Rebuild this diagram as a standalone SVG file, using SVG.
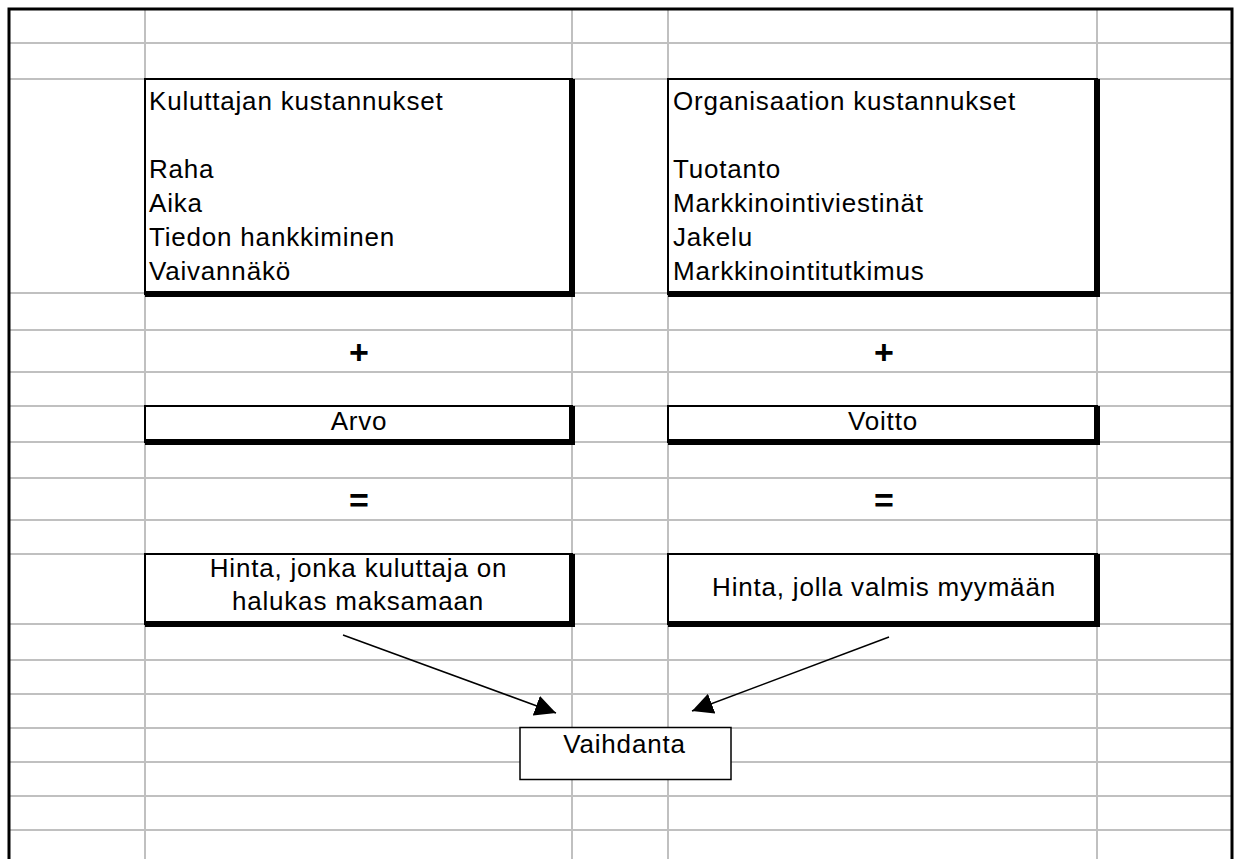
<svg xmlns="http://www.w3.org/2000/svg" width="1238" height="859" viewBox="0 0 1238 859">
  <style>
    .grid { stroke: #c0c0c0; stroke-width: 2; fill: none; }
    .frame { stroke: #000; stroke-width: 3; fill: none; }
    .box { fill: #fff; stroke: #000; stroke-width: 2; }
    .shadow { fill: none; stroke: #000; stroke-width: 6; stroke-linejoin: miter; }
    .t { font-family: "Liberation Sans", Arial, sans-serif; font-size: 26px; letter-spacing: 0.8px; fill: #000; }
    .c { text-anchor: middle; }
    .op { font-family: "Liberation Sans", Arial, sans-serif; font-size: 34px; font-weight: bold; text-anchor: middle; fill: #000; }
    .conn { stroke: #000; stroke-width: 1.5; fill: none; marker-end: url(#ah); }
  </style>
  <defs>
    <marker id="ah" viewBox="0 0 21 21" refX="21" refY="10.5" markerWidth="21" markerHeight="21" markerUnits="userSpaceOnUse" orient="auto">
      <path d="M0,0 L21,10.5 L0,21 z" fill="#000"/>
    </marker>
  </defs>
  <rect x="0" y="0" width="1238" height="859" fill="#fff"/>
  <g id="grid">
    <path class="grid" d="M9,43H1232M9,79H1232M9,293H1232M9,330H1232M9,372H1232M9,406H1232M9,442H1232M9,478H1232M9,520H1232M9,554H1232M9,624H1232M9,660H1232M9,694H1232M9,728H1232M9,762H1232M9,796H1232M9,830H1232"/>
    <path class="grid" d="M145,9V859M572,9V859M668,9V859M1097,9V859"/>
    <path class="frame" d="M9,859V9H1232V859"/>
  </g>
  <g id="node-kuluttajan">
    <rect class="box" x="145" y="79" width="427" height="215"/>
    <polyline class="shadow" points="572,79 572,294 145,294"/>
    <text class="t" x="149" y="110">Kuluttajan kustannukset</text>
    <text class="t" x="149" y="178">Raha</text>
    <text class="t" x="149" y="212">Aika</text>
    <text class="t" x="149" y="246">Tiedon hankkiminen</text>
    <text class="t" x="149" y="280">Vaivannäkö</text>
  </g>
  <g id="node-organisaation">
    <rect class="box" x="668" y="79" width="429" height="215"/>
    <polyline class="shadow" points="1097,79 1097,294 668,294"/>
    <text class="t" x="673" y="110">Organisaation kustannukset</text>
    <text class="t" x="673" y="178">Tuotanto</text>
    <text class="t" x="673" y="212">Markkinointiviestinät</text>
    <text class="t" x="673" y="246">Jakelu</text>
    <text class="t" x="673" y="280">Markkinointitutkimus</text>
  </g>
  <g id="op-plus-left"><text class="op" x="359" y="363.5">+</text></g>
  <g id="op-plus-right"><text class="op" x="884" y="363.5">+</text></g>
  <g id="node-arvo">
    <rect class="box" x="145" y="406" width="427" height="36"/>
    <polyline class="shadow" points="572,406 572,442 145,442"/>
    <text class="t c" x="359" y="430">Arvo</text>
  </g>
  <g id="node-voitto">
    <rect class="box" x="668" y="406" width="429" height="36"/>
    <polyline class="shadow" points="1097,406 1097,442 668,442"/>
    <text class="t c" x="883" y="430">Voitto</text>
  </g>
  <g id="op-eq-left"><text class="op" x="359" y="511.5">=</text></g>
  <g id="op-eq-right"><text class="op" x="884" y="511.5">=</text></g>
  <g id="node-hinta-kuluttaja">
    <rect class="box" x="145" y="554" width="427" height="70"/>
    <polyline class="shadow" points="572,554 572,624 145,624"/>
    <text class="t c" x="358.5" y="577">Hinta, jonka kuluttaja on</text>
    <text class="t c" x="358" y="610">halukas maksamaan</text>
  </g>
  <g id="node-hinta-myyja">
    <rect class="box" x="668" y="554" width="429" height="70"/>
    <polyline class="shadow" points="1097,554 1097,624 668,624"/>
    <text class="t c" x="884" y="596">Hinta, jolla valmis myymään</text>
  </g>
  <g id="node-vaihdanta">
    <rect x="520" y="727.5" width="211" height="52" fill="#fff" stroke="#000" stroke-width="1.5"/>
    <text class="t c" x="624.5" y="753">Vaihdanta</text>
  </g>
  <g id="connectors">
    <line class="conn" x1="343" y1="635" x2="556" y2="713"/>
    <line class="conn" x1="889" y1="637" x2="692" y2="711"/>
  </g>
</svg>
